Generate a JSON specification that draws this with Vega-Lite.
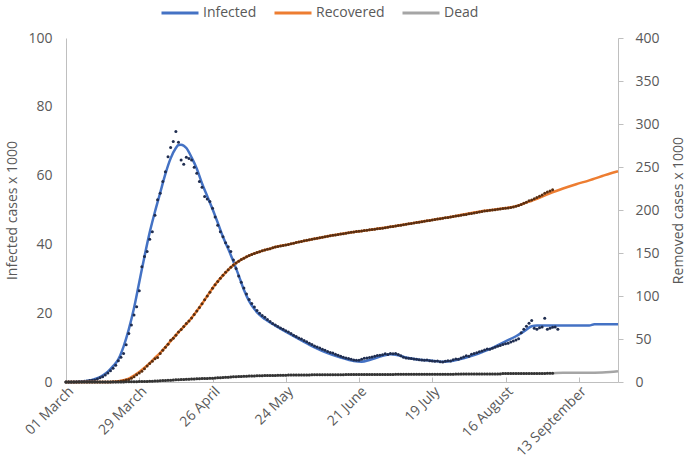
{
"$schema":"https://vega.github.io/schema/vega-lite/v6.json",
"width":552,"height":344,
"autosize":{"type":"none"},
"padding":{"left":66,"top":38,"right":68,"bottom":92},
"config":{"view":{"stroke":null},"font":"Open Sans",
"axis":{"grid":false,"domainColor":"#BFBFBF","tickColor":"#BFBFBF","labelColor":"#595959","titleColor":"#595959","labelFont":"Open Sans","titleFont":"Open Sans","labelFontSize":14,"titleFontSize":14,"titleFontWeight":"normal"},
"legend":{"labelFont":"Open Sans","labelFontSize":14,"labelColor":"#595959"}},
"datasets":{
"obs":[
{"date":"2020-03-01","inf":0,"rec":0,"dead":0},
{"date":"2020-03-02","inf":0,"rec":0,"dead":0},
{"date":"2020-03-03","inf":0,"rec":0,"dead":0},
{"date":"2020-03-04","inf":0,"rec":0,"dead":0},
{"date":"2020-03-05","inf":0,"rec":0,"dead":0},
{"date":"2020-03-06","inf":0.1,"rec":0,"dead":0},
{"date":"2020-03-07","inf":0.1,"rec":0,"dead":0},
{"date":"2020-03-08","inf":0.2,"rec":0,"dead":0},
{"date":"2020-03-09","inf":0.3,"rec":0,"dead":0},
{"date":"2020-03-10","inf":0.4,"rec":0,"dead":0},
{"date":"2020-03-11","inf":0.5,"rec":0,"dead":0},
{"date":"2020-03-12","inf":0.6,"rec":0,"dead":0},
{"date":"2020-03-13","inf":0.9,"rec":0,"dead":0},
{"date":"2020-03-14","inf":1.2,"rec":0,"dead":0},
{"date":"2020-03-15","inf":1.5,"rec":0,"dead":0},
{"date":"2020-03-16","inf":2.0,"rec":0,"dead":0},
{"date":"2020-03-17","inf":2.6,"rec":0.1,"dead":0},
{"date":"2020-03-18","inf":3.3,"rec":0.1,"dead":0},
{"date":"2020-03-19","inf":4.0,"rec":0.2,"dead":0},
{"date":"2020-03-20","inf":4.9,"rec":0.4,"dead":0},
{"date":"2020-03-21","inf":6.2,"rec":0.6,"dead":0.1},
{"date":"2020-03-22","inf":7.2,"rec":1.0,"dead":0.1},
{"date":"2020-03-23","inf":8.3,"rec":1.5,"dead":0.1},
{"date":"2020-03-24","inf":10.8,"rec":2.2,"dead":0.2},
{"date":"2020-03-25","inf":14.1,"rec":3.0,"dead":0.2},
{"date":"2020-03-26","inf":16.6,"rec":4.5,"dead":0.3},
{"date":"2020-03-27","inf":19.5,"rec":6.0,"dead":0.3},
{"date":"2020-03-28","inf":21.9,"rec":8.5,"dead":0.4},
{"date":"2020-03-29","inf":26.5,"rec":10.5,"dead":0.5},
{"date":"2020-03-30","inf":33.5,"rec":12.5,"dead":0.5},
{"date":"2020-03-31","inf":36.5,"rec":15.5,"dead":0.6},
{"date":"2020-04-01","inf":37.9,"rec":18.5,"dead":0.7},
{"date":"2020-04-02","inf":41.5,"rec":21.5,"dead":0.9},
{"date":"2020-04-03","inf":43.7,"rec":24.0,"dead":1.0},
{"date":"2020-04-04","inf":48.5,"rec":27.0,"dead":1.1},
{"date":"2020-04-05","inf":53.0,"rec":28.5,"dead":1.3},
{"date":"2020-04-06","inf":54.9,"rec":33.0,"dead":1.4},
{"date":"2020-04-07","inf":58.3,"rec":37.0,"dead":1.6},
{"date":"2020-04-08","inf":61.1,"rec":40.5,"dead":1.8},
{"date":"2020-04-09","inf":65.5,"rec":44.0,"dead":1.9},
{"date":"2020-04-10","inf":68.2,"rec":48.5,"dead":2.1},
{"date":"2020-04-11","inf":69.9,"rec":51.0,"dead":2.3},
{"date":"2020-04-12","inf":72.8,"rec":54.5,"dead":2.5},
{"date":"2020-04-13","inf":69.7,"rec":58.0,"dead":2.7},
{"date":"2020-04-14","inf":64.5,"rec":61.0,"dead":2.8},
{"date":"2020-04-15","inf":63.3,"rec":64.5,"dead":3.0},
{"date":"2020-04-16","inf":65.3,"rec":68.0,"dead":3.2},
{"date":"2020-04-17","inf":65.0,"rec":71.0,"dead":3.3},
{"date":"2020-04-18","inf":64.5,"rec":74.5,"dead":3.5},
{"date":"2020-04-19","inf":62.4,"rec":78.5,"dead":3.6},
{"date":"2020-04-20","inf":60.7,"rec":82.5,"dead":3.7},
{"date":"2020-04-21","inf":58.3,"rec":86.5,"dead":3.9},
{"date":"2020-04-22","inf":56.6,"rec":91.0,"dead":4.0},
{"date":"2020-04-23","inf":53.9,"rec":95.5,"dead":4.1},
{"date":"2020-04-24","inf":53.2,"rec":100.0,"dead":4.2},
{"date":"2020-04-25","inf":52.5,"rec":104.5,"dead":4.3},
{"date":"2020-04-26","inf":50.5,"rec":109.0,"dead":4.4},
{"date":"2020-04-27","inf":48.0,"rec":113.0,"dead":4.6},
{"date":"2020-04-28","inf":45.6,"rec":117.0,"dead":4.8},
{"date":"2020-04-29","inf":43.7,"rec":120.5,"dead":5.0},
{"date":"2020-04-30","inf":42.2,"rec":124.0,"dead":5.2},
{"date":"2020-05-01","inf":40.5,"rec":127.5,"dead":5.4},
{"date":"2020-05-02","inf":39.3,"rec":130.5,"dead":5.6},
{"date":"2020-05-03","inf":37.9,"rec":133.5,"dead":5.8},
{"date":"2020-05-04","inf":35.5,"rec":136.0,"dead":6.0},
{"date":"2020-05-05","inf":33.0,"rec":138.5,"dead":6.2},
{"date":"2020-05-06","inf":30.8,"rec":140.5,"dead":6.3},
{"date":"2020-05-07","inf":29.0,"rec":142.5,"dead":6.5},
{"date":"2020-05-08","inf":27.3,"rec":144.0,"dead":6.6},
{"date":"2020-05-09","inf":25.6,"rec":145.5,"dead":6.8},
{"date":"2020-05-10","inf":24.0,"rec":147.0,"dead":6.9},
{"date":"2020-05-11","inf":22.8,"rec":148.3,"dead":7.0},
{"date":"2020-05-12","inf":21.8,"rec":149.5,"dead":7.1},
{"date":"2020-05-13","inf":20.8,"rec":150.5,"dead":7.2},
{"date":"2020-05-14","inf":20.0,"rec":151.5,"dead":7.3},
{"date":"2020-05-15","inf":19.3,"rec":152.5,"dead":7.4},
{"date":"2020-05-16","inf":18.8,"rec":153.5,"dead":7.5},
{"date":"2020-05-17","inf":18.2,"rec":154.3,"dead":7.5},
{"date":"2020-05-18","inf":17.6,"rec":155.0,"dead":7.6},
{"date":"2020-05-19","inf":17.0,"rec":156.0,"dead":7.7},
{"date":"2020-05-20","inf":16.6,"rec":157.0,"dead":7.7},
{"date":"2020-05-21","inf":16.1,"rec":157.5,"dead":7.8},
{"date":"2020-05-22","inf":15.7,"rec":158.2,"dead":7.8},
{"date":"2020-05-23","inf":15.3,"rec":158.8,"dead":7.9},
{"date":"2020-05-24","inf":14.9,"rec":159.4,"dead":7.9},
{"date":"2020-05-25","inf":14.5,"rec":160.0,"dead":8.0},
{"date":"2020-05-26","inf":14.1,"rec":160.7,"dead":8.0},
{"date":"2020-05-27","inf":13.6,"rec":161.4,"dead":8.0},
{"date":"2020-05-28","inf":13.2,"rec":162.1,"dead":8.1},
{"date":"2020-05-29","inf":12.8,"rec":162.8,"dead":8.1},
{"date":"2020-05-30","inf":12.5,"rec":163.5,"dead":8.1},
{"date":"2020-05-31","inf":12.1,"rec":164.1,"dead":8.2},
{"date":"2020-06-01","inf":11.7,"rec":164.7,"dead":8.2},
{"date":"2020-06-02","inf":11.3,"rec":165.3,"dead":8.2},
{"date":"2020-06-03","inf":10.9,"rec":165.9,"dead":8.3},
{"date":"2020-06-04","inf":10.5,"rec":166.5,"dead":8.3},
{"date":"2020-06-05","inf":10.2,"rec":167.1,"dead":8.3},
{"date":"2020-06-06","inf":9.9,"rec":167.7,"dead":8.3},
{"date":"2020-06-07","inf":9.5,"rec":168.3,"dead":8.4},
{"date":"2020-06-08","inf":9.2,"rec":168.9,"dead":8.4},
{"date":"2020-06-09","inf":8.9,"rec":169.5,"dead":8.4},
{"date":"2020-06-10","inf":8.6,"rec":170.0,"dead":8.4},
{"date":"2020-06-11","inf":8.4,"rec":170.5,"dead":8.5},
{"date":"2020-06-12","inf":8.1,"rec":171.0,"dead":8.5},
{"date":"2020-06-13","inf":7.8,"rec":171.5,"dead":8.5},
{"date":"2020-06-14","inf":7.5,"rec":172.0,"dead":8.5},
{"date":"2020-06-15","inf":7.2,"rec":172.5,"dead":8.5},
{"date":"2020-06-16","inf":7.0,"rec":173.0,"dead":8.6},
{"date":"2020-06-17","inf":6.8,"rec":173.5,"dead":8.6},
{"date":"2020-06-18","inf":6.6,"rec":174.0,"dead":8.6},
{"date":"2020-06-19","inf":6.4,"rec":174.5,"dead":8.6},
{"date":"2020-06-20","inf":6.3,"rec":174.9,"dead":8.6},
{"date":"2020-06-21","inf":6.3,"rec":175.3,"dead":8.6},
{"date":"2020-06-22","inf":6.6,"rec":175.7,"dead":8.7},
{"date":"2020-06-23","inf":6.9,"rec":176.1,"dead":8.7},
{"date":"2020-06-24","inf":7.0,"rec":176.5,"dead":8.7},
{"date":"2020-06-25","inf":7.1,"rec":176.9,"dead":8.7},
{"date":"2020-06-26","inf":7.3,"rec":177.3,"dead":8.7},
{"date":"2020-06-27","inf":7.5,"rec":177.7,"dead":8.7},
{"date":"2020-06-28","inf":7.7,"rec":178.1,"dead":8.8},
{"date":"2020-06-29","inf":7.8,"rec":178.5,"dead":8.8},
{"date":"2020-06-30","inf":7.9,"rec":178.9,"dead":8.8},
{"date":"2020-07-01","inf":8.2,"rec":179.4,"dead":8.8},
{"date":"2020-07-02","inf":8.0,"rec":179.9,"dead":8.8},
{"date":"2020-07-03","inf":8.3,"rec":180.4,"dead":8.8},
{"date":"2020-07-04","inf":8.2,"rec":180.9,"dead":8.8},
{"date":"2020-07-05","inf":8.3,"rec":181.4,"dead":8.9},
{"date":"2020-07-06","inf":8.0,"rec":181.9,"dead":8.9},
{"date":"2020-07-07","inf":7.6,"rec":182.4,"dead":8.9},
{"date":"2020-07-08","inf":7.2,"rec":182.9,"dead":8.9},
{"date":"2020-07-09","inf":7.0,"rec":183.4,"dead":8.9},
{"date":"2020-07-10","inf":6.9,"rec":183.9,"dead":8.9},
{"date":"2020-07-11","inf":6.8,"rec":184.4,"dead":8.9},
{"date":"2020-07-12","inf":6.7,"rec":184.9,"dead":9.0},
{"date":"2020-07-13","inf":6.6,"rec":185.4,"dead":9.0},
{"date":"2020-07-14","inf":6.5,"rec":185.9,"dead":9.0},
{"date":"2020-07-15","inf":6.4,"rec":186.4,"dead":9.0},
{"date":"2020-07-16","inf":6.3,"rec":186.9,"dead":9.0},
{"date":"2020-07-17","inf":6.4,"rec":187.4,"dead":9.0},
{"date":"2020-07-18","inf":6.2,"rec":187.9,"dead":9.0},
{"date":"2020-07-19","inf":6.1,"rec":188.4,"dead":9.0},
{"date":"2020-07-20","inf":6.0,"rec":188.9,"dead":9.1},
{"date":"2020-07-21","inf":6.1,"rec":189.4,"dead":9.1},
{"date":"2020-07-22","inf":5.9,"rec":189.9,"dead":9.1},
{"date":"2020-07-23","inf":5.8,"rec":190.4,"dead":9.1},
{"date":"2020-07-24","inf":6.0,"rec":190.9,"dead":9.1},
{"date":"2020-07-25","inf":6.2,"rec":191.4,"dead":9.1},
{"date":"2020-07-26","inf":6.1,"rec":191.9,"dead":9.1},
{"date":"2020-07-27","inf":6.5,"rec":192.4,"dead":9.1},
{"date":"2020-07-28","inf":6.7,"rec":192.9,"dead":9.2},
{"date":"2020-07-29","inf":6.6,"rec":193.4,"dead":9.2},
{"date":"2020-07-30","inf":7.0,"rec":193.9,"dead":9.2},
{"date":"2020-07-31","inf":7.3,"rec":194.4,"dead":9.2},
{"date":"2020-08-01","inf":7.6,"rec":194.9,"dead":9.2},
{"date":"2020-08-02","inf":7.5,"rec":195.5,"dead":9.2},
{"date":"2020-08-03","inf":8.1,"rec":196.0,"dead":9.2},
{"date":"2020-08-04","inf":8.3,"rec":196.6,"dead":9.2},
{"date":"2020-08-05","inf":8.5,"rec":197.1,"dead":9.2},
{"date":"2020-08-06","inf":8.8,"rec":197.7,"dead":9.2},
{"date":"2020-08-07","inf":9.0,"rec":198.2,"dead":9.2},
{"date":"2020-08-08","inf":9.3,"rec":198.8,"dead":9.2},
{"date":"2020-08-09","inf":9.6,"rec":199.2,"dead":9.3},
{"date":"2020-08-10","inf":9.5,"rec":199.6,"dead":9.3},
{"date":"2020-08-11","inf":9.8,"rec":200.0,"dead":9.3},
{"date":"2020-08-12","inf":10.1,"rec":200.4,"dead":9.3},
{"date":"2020-08-13","inf":10.4,"rec":200.8,"dead":9.3},
{"date":"2020-08-14","inf":10.6,"rec":201.2,"dead":9.3},
{"date":"2020-08-15","inf":10.9,"rec":201.6,"dead":9.9},
{"date":"2020-08-16","inf":11.1,"rec":202.0,"dead":9.9},
{"date":"2020-08-17","inf":11.3,"rec":202.4,"dead":9.9},
{"date":"2020-08-18","inf":11.6,"rec":202.9,"dead":9.9},
{"date":"2020-08-19","inf":11.9,"rec":203.5,"dead":9.9},
{"date":"2020-08-20","inf":12.2,"rec":204.3,"dead":9.9},
{"date":"2020-08-21","inf":12.6,"rec":205.3,"dead":9.9},
{"date":"2020-08-22","inf":14.3,"rec":206.5,"dead":9.9},
{"date":"2020-08-23","inf":15.3,"rec":207.8,"dead":10.0},
{"date":"2020-08-24","inf":16.2,"rec":209.0,"dead":10.0},
{"date":"2020-08-25","inf":17.1,"rec":210.8,"dead":10.0},
{"date":"2020-08-26","inf":17.9,"rec":211.5,"dead":10.0},
{"date":"2020-08-27","inf":15.6,"rec":213.0,"dead":10.0},
{"date":"2020-08-28","inf":15.3,"rec":214.5,"dead":10.0},
{"date":"2020-08-29","inf":15.8,"rec":216.0,"dead":10.0},
{"date":"2020-08-30","inf":16.0,"rec":217.5,"dead":10.0},
{"date":"2020-08-31","inf":18.5,"rec":219.5,"dead":10.0},
{"date":"2020-09-01","inf":15.3,"rec":221.0,"dead":10.1},
{"date":"2020-09-02","inf":15.6,"rec":222.0,"dead":10.1},
{"date":"2020-09-03","inf":15.9,"rec":223.5,"dead":10.1},
{"date":"2020-09-04","inf":16.0},
{"date":"2020-09-05","inf":15.3}
],
"fit":[
{"date":"2020-03-01","fi":0,"fr":0,"fm":0},
{"date":"2020-03-05","fi":0.1,"fr":0,"fm":0},
{"date":"2020-03-09","fi":0.3,"fr":0,"fm":0},
{"date":"2020-03-11","fi":0.6,"fr":0,"fm":0},
{"date":"2020-03-13","fi":1.1,"fr":0,"fm":0},
{"date":"2020-03-15","fi":1.9,"fr":0,"fm":0},
{"date":"2020-03-17","fi":3.0,"fr":0.1,"fm":0},
{"date":"2020-03-19","fi":4.6,"fr":0.3,"fm":0},
{"date":"2020-03-21","fi":6.6,"fr":0.8,"fm":0.1},
{"date":"2020-03-23","fi":10.3,"fr":2,"fm":0.1},
{"date":"2020-03-25","fi":15.3,"fr":4,"fm":0.2},
{"date":"2020-03-27","fi":21.5,"fr":7.5,"fm":0.3},
{"date":"2020-03-29","fi":29,"fr":11.5,"fm":0.5},
{"date":"2020-03-31","fi":36.5,"fr":16.5,"fm":0.6},
{"date":"2020-04-02","fi":43.5,"fr":22,"fm":0.9},
{"date":"2020-04-04","fi":49.5,"fr":28,"fm":1.1},
{"date":"2020-04-06","fi":55,"fr":34,"fm":1.4},
{"date":"2020-04-08","fi":60.5,"fr":40.5,"fm":1.8},
{"date":"2020-04-10","fi":65,"fr":47.5,"fm":2.1},
{"date":"2020-04-12","fi":68,"fr":54.5,"fm":2.5},
{"date":"2020-04-13","fi":68.9,"fr":58,"fm":2.7},
{"date":"2020-04-14","fi":69,"fr":61,"fm":2.8},
{"date":"2020-04-16","fi":68,"fr":67.5,"fm":3.2},
{"date":"2020-04-18","fi":65.3,"fr":74.5,"fm":3.5},
{"date":"2020-04-20","fi":62,"fr":82.5,"fm":3.7},
{"date":"2020-04-22","fi":57.7,"fr":91,"fm":4.0},
{"date":"2020-04-24","fi":54,"fr":100,"fm":4.2},
{"date":"2020-04-26","fi":50.3,"fr":109,"fm":4.4},
{"date":"2020-04-28","fi":46.3,"fr":117,"fm":4.8},
{"date":"2020-04-30","fi":42.2,"fr":124,"fm":5.2},
{"date":"2020-05-02","fi":38.7,"fr":130.5,"fm":5.6},
{"date":"2020-05-04","fi":35,"fr":136,"fm":6.0},
{"date":"2020-05-06","fi":31,"fr":140.5,"fm":6.3},
{"date":"2020-05-08","fi":26.8,"fr":144,"fm":6.6},
{"date":"2020-05-10","fi":23.5,"fr":147,"fm":6.9},
{"date":"2020-05-12","fi":21.2,"fr":149.5,"fm":7.1},
{"date":"2020-05-14","fi":19.5,"fr":151.5,"fm":7.3},
{"date":"2020-05-16","fi":18.3,"fr":153.5,"fm":7.5},
{"date":"2020-05-18","fi":17.3,"fr":155,"fm":7.6},
{"date":"2020-05-20","fi":16.4,"fr":157,"fm":7.7},
{"date":"2020-05-25","fi":14.2,"fr":160,"fm":8.0},
{"date":"2020-05-30","fi":12.1,"fr":163.5,"fm":8.1},
{"date":"2020-06-04","fi":10.1,"fr":166.5,"fm":8.3},
{"date":"2020-06-09","fi":8.4,"fr":169.5,"fm":8.4},
{"date":"2020-06-14","fi":7.1,"fr":172,"fm":8.5},
{"date":"2020-06-19","fi":6.1,"fr":174.5,"fm":8.6},
{"date":"2020-06-22","fi":5.9,"fr":175.5,"fm":8.7},
{"date":"2020-06-25","fi":6.4,"fr":176.8,"fm":8.7},
{"date":"2020-06-29","fi":7.4,"fr":178.7,"fm":8.8},
{"date":"2020-07-03","fi":8.1,"fr":180.5,"fm":8.8},
{"date":"2020-07-06","fi":7.8,"fr":182,"fm":8.9},
{"date":"2020-07-09","fi":7.1,"fr":183.5,"fm":8.9},
{"date":"2020-07-14","fi":6.5,"fr":186,"fm":9.0},
{"date":"2020-07-19","fi":6.2,"fr":188.5,"fm":9.0},
{"date":"2020-07-23","fi":5.9,"fr":190.5,"fm":9.1},
{"date":"2020-07-27","fi":6.2,"fr":192.5,"fm":9.1},
{"date":"2020-07-31","fi":6.9,"fr":194.8,"fm":9.2},
{"date":"2020-08-04","fi":7.8,"fr":197,"fm":9.2},
{"date":"2020-08-08","fi":9.0,"fr":199,"fm":9.2},
{"date":"2020-08-12","fi":10.3,"fr":200.6,"fm":9.3},
{"date":"2020-08-16","fi":11.8,"fr":202.2,"fm":9.9},
{"date":"2020-08-20","fi":13.3,"fr":204.5,"fm":9.9},
{"date":"2020-08-23","fi":14.7,"fr":207.5,"fm":10.0},
{"date":"2020-08-26","fi":16.2,"fr":210.8,"fm":10.0},
{"date":"2020-08-28","fi":16.4,"fr":213,"fm":10.0},
{"date":"2020-09-02","fi":16.4,"fr":219.5,"fm":10.1},
{"date":"2020-09-07","fi":16.4,"fr":225,"fm":10.8},
{"date":"2020-09-12","fi":16.4,"fr":230,"fm":10.8},
{"date":"2020-09-17","fi":16.4,"fr":234.5,"fm":10.9},
{"date":"2020-09-19","fi":16.8,"fr":236.5,"fm":10.9},
{"date":"2020-09-22","fi":16.8,"fr":239.5,"fm":11.0},
{"date":"2020-09-25","fi":16.8,"fr":242.5,"fm":11.5},
{"date":"2020-09-28","fi":16.8,"fr":245,"fm":12.5}
]},
"encoding":{"x":{"field":"date","type":"temporal",
"scale":{"type":"utc","domain":[{"year":2020,"month":3,"date":1,"utc":true},{"year":2020,"month":9,"date":28,"utc":true}]},
"axis":{"title":null,"format":"%d %B","labelAngle":-45,"tickSize":-5,"labelPadding":7,"labelOverlap":false,"labelBound":false,"labelFlush":false,
"values":[{"year":2020,"month":3,"date":1,"utc":true},{"year":2020,"month":3,"date":29,"utc":true},{"year":2020,"month":4,"date":26,"utc":true},{"year":2020,"month":5,"date":24,"utc":true},{"year":2020,"month":6,"date":21,"utc":true},{"year":2020,"month":7,"date":19,"utc":true},{"year":2020,"month":8,"date":16,"utc":true},{"year":2020,"month":9,"date":13,"utc":true}]}}},
"layer":[
{"encoding":{"y":{"type":"quantitative","scale":{"domain":[0,100]},"axis":{"orient":"left","title":"Infected cases x 1000","values":[0,20,40,60,80,100],"ticks":false,"labelPadding":14,"titlePadding":8}}},
"layer":[
{"data":{"name":"fit"},"mark":{"type":"line","interpolate":"monotone","strokeWidth":2.5},"encoding":{"y":{"field":"fi","type":"quantitative"},"color":{"datum":"Infected","type":"nominal","scale":{"domain":["Infected","Recovered","Dead"],"range":["#4472C4","#ED7D31","#A5A5A5"]},"legend":{"title":null,"orient":"none","legendX":94,"legendY":-45,"direction":"horizontal","symbolType":"stroke","symbolSize":1369,"symbolStrokeWidth":3,"labelOffset":3,"columnPadding":11}}}},
{"data":{"name":"obs"},"mark":{"type":"point","filled":true,"size":9,"opacity":1,"color":"#1F2D50"},"encoding":{"y":{"field":"inf","type":"quantitative"}}}
]},
{"encoding":{"y":{"type":"quantitative","scale":{"domain":[0,400]},"axis":{"orient":"right","title":"Removed cases x 1000","values":[0,50,100,150,200,250,300,350,400],"tickSize":5,"labelPadding":12,"titlePadding":26,"titleAngle":270}}},
"layer":[
{"data":{"name":"fit"},"mark":{"type":"line","interpolate":"monotone","strokeWidth":2.5},"encoding":{"y":{"field":"fr","type":"quantitative"},"color":{"datum":"Recovered","type":"nominal"}}},
{"data":{"name":"fit"},"mark":{"type":"line","interpolate":"monotone","strokeWidth":2.5},"encoding":{"y":{"field":"fm","type":"quantitative"},"color":{"datum":"Dead","type":"nominal"}}},
{"data":{"name":"obs"},"mark":{"type":"point","filled":true,"size":9,"opacity":1,"color":"#5A2E10"},"encoding":{"y":{"field":"rec","type":"quantitative"}}},
{"data":{"name":"obs"},"mark":{"type":"point","filled":true,"size":9,"opacity":1,"color":"#333333"},"encoding":{"y":{"field":"dead","type":"quantitative"}}}
]}
],
"resolve":{"scale":{"y":"independent"}}
}
